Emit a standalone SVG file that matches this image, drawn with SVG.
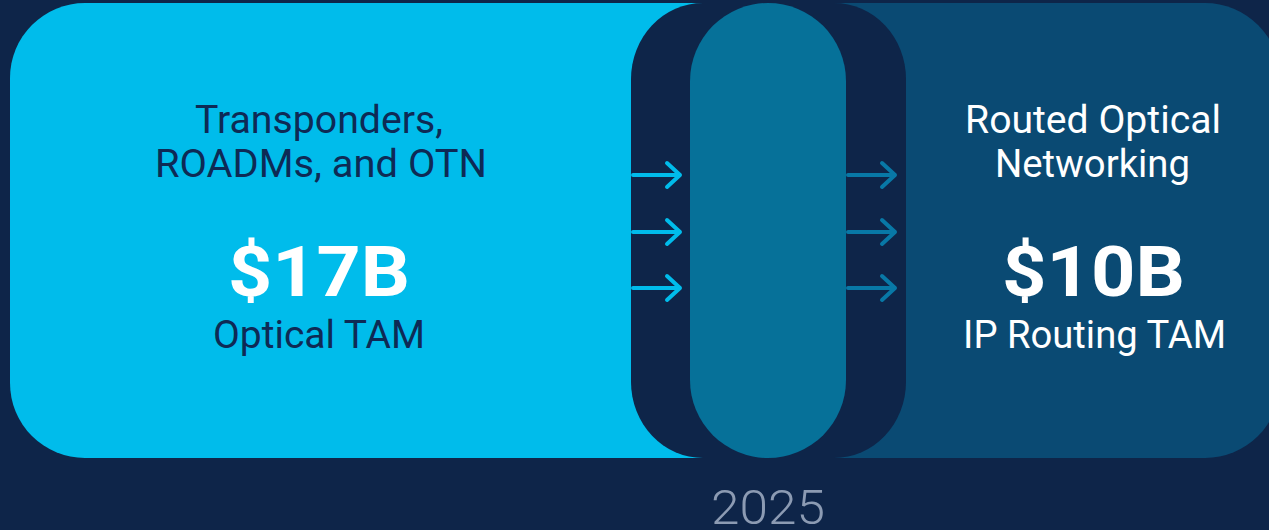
<svg xmlns="http://www.w3.org/2000/svg" width="1269" height="530" viewBox="0 0 1269 530">
  <style>
    .dark { font-family: Roboto, "Liberation Sans", sans-serif; fill: #0E2A55; }
    .light { font-family: Roboto, "Liberation Sans", sans-serif; fill: #FFFFFF; }
    .lbl { font-size: 38.5px; }
    .big { font-size: 71px; font-weight: 700; }
    .year { font-family: Roboto, "Liberation Sans", sans-serif; font-size: 48px; font-weight: 300; fill: #8C9BB3; }
    .arrL { stroke: #00BCEB; stroke-width: 4; fill: none; stroke-linecap: round; stroke-linejoin: round; }
    .arrR { stroke: #0878A6; stroke-width: 4; fill: none; stroke-linecap: round; stroke-linejoin: round; }
  </style>
  <rect x="0" y="0" width="1269" height="530" fill="#0E2549"/>

  <g id="optical">
    <path d="M85,3 H780 V458 H85 A75,75 0 0 1 10,383 V78 A75,75 0 0 1 85,3 Z" fill="#00BCEB"/>
    <text class="dark lbl" x="319" y="133" text-anchor="middle" textLength="248" lengthAdjust="spacingAndGlyphs">Transponders,</text>
    <text class="dark lbl" x="321" y="177" text-anchor="middle" textLength="332" lengthAdjust="spacingAndGlyphs">ROADMs, and OTN</text>
    <text class="light big" x="319" y="296" text-anchor="middle" textLength="182" lengthAdjust="spacingAndGlyphs">$17B</text>
    <text class="dark lbl" x="319" y="348" text-anchor="middle" textLength="212" lengthAdjust="spacingAndGlyphs">Optical TAM</text>
  </g>

  <g id="routed">
    <path d="M760,3 H1205 A75,75 0 0 1 1280,78 V383 A75,75 0 0 1 1205,458 H760 Z" fill="#0A4A73"/>
    <text class="light lbl" x="1093" y="133" text-anchor="middle" textLength="256" lengthAdjust="spacingAndGlyphs">Routed Optical</text>
    <text class="light lbl" x="1092.5" y="177" text-anchor="middle" textLength="195" lengthAdjust="spacingAndGlyphs">Networking</text>
    <text class="light big" x="1093.5" y="296" text-anchor="middle" textLength="183" lengthAdjust="spacingAndGlyphs">$10B</text>
    <text class="light lbl" x="1094.5" y="348" text-anchor="middle" textLength="263" lengthAdjust="spacingAndGlyphs">IP Routing TAM</text>
  </g>

  <g id="transition">
    <rect x="631" y="3" width="275" height="455" rx="72" ry="76" fill="#0E2549"/>
    <rect x="690" y="3" width="156" height="455" rx="78" ry="78" fill="#067199"/>
  </g>

  <g id="connectors">
    <path class="arrL" d="M633,175 H680 M667,163 L680,175 L667,187"/>
    <path class="arrL" d="M633,232 H680 M667,220 L680,232 L667,244"/>
    <path class="arrL" d="M633,288 H680 M667,276 L680,288 L667,300"/>
    <path class="arrR" d="M848,175 H895 M882,163 L895,175 L882,187"/>
    <path class="arrR" d="M848,232 H895 M882,220 L895,232 L882,244"/>
    <path class="arrR" d="M848,288 H895 M882,276 L895,288 L882,300"/>
  </g>

  <g id="year">
    <text class="year" x="768" y="524" text-anchor="middle" textLength="114" lengthAdjust="spacingAndGlyphs">2025</text>
  </g>
</svg>
